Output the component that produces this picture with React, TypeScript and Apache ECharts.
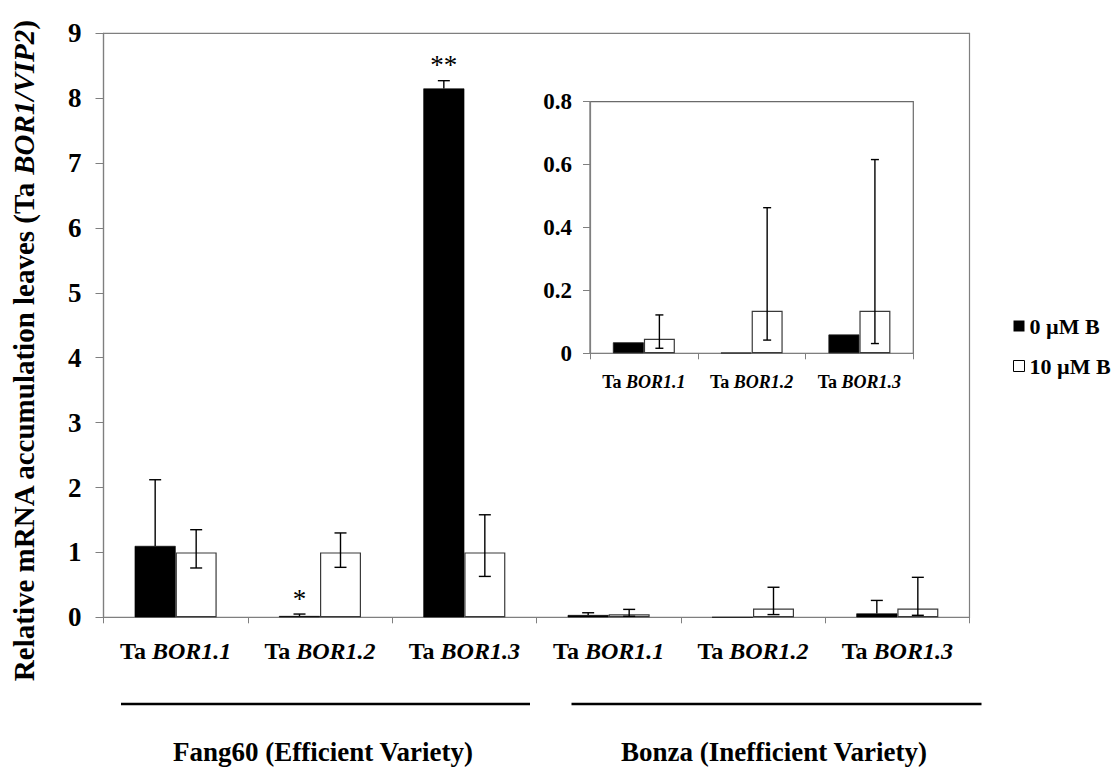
import React, { useEffect, useRef } from "react";
import * as echarts from "echarts";

const FONT = "Liberation Serif";

const varieties = ["Fang60", "Bonza"];
const genes = ["BOR1.1", "BOR1.2", "BOR1.3"];
const categories = varieties.flatMap((v) => genes.map((g) => `${v}|${g}`));
const groupTitles = ["Fang60 (Efficient Variety)", "Bonza (Inefficient Variety)"];
const seriesNames = ["0 µM B", "10 µM B"];

// 0 µM B (black)
const b0Values = [1.1, 0.02, 8.15, 0.035, 0.002, 0.06];
const b0ErrHigh: (number | null)[] = [2.12, 0.05, 8.27, 0.07, null, 0.26];
const b0Sig = ["", "*", "**", "", "", ""];
// 10 µM B (white)
const b10Values = [1.0, 1.0, 1.0, 0.046, 0.135, 0.135];
const b10ErrLow = [0.76, 0.77, 0.63, 0.016, 0.042, 0.031];
const b10ErrHigh = [1.35, 1.3, 1.58, 0.122, 0.463, 0.616];

// inset shows Bonza (indices 3..5)
const insetIdx = [3, 4, 5];

const mainTicks = { min: 0, max: 9, interval: 1 };
const insetTicks = { min: 0, max: 0.8, interval: 0.2 };

const AXIS_GRAY = "#7f7f7f";

function geneLabel(v: string) {
  const g = v.split("|")[1];
  return `{n|Ta }{i|${g}}`;
}

function richFor(size: number) {
  return {
    n: { fontFamily: FONT, fontWeight: "bold", fontSize: size, color: "#000" },
    i: { fontFamily: FONT, fontWeight: "bold", fontStyle: "italic", fontSize: size, color: "#000" },
  };
}

function errRender(offset: number, capW: number, lowCap: boolean, sigs: string[] | null, sigSize: number) {
  return (params: any, api: any) => {
    const idx = api.value(0);
    const lo = api.value(1);
    const hi = api.value(2);
    const pLo = api.coord([idx, lo]);
    const pHi = api.coord([idx, hi]);
    const x = pLo[0] + offset;
    const style = { stroke: "#000", lineWidth: 1.4 };
    const children: any[] = [
      { type: "line", shape: { x1: x, y1: pLo[1], x2: x, y2: pHi[1] }, style },
      { type: "line", shape: { x1: x - capW / 2, y1: pHi[1], x2: x + capW / 2, y2: pHi[1] }, style },
    ];
    if (lowCap) {
      children.push({ type: "line", shape: { x1: x - capW / 2, y1: pLo[1], x2: x + capW / 2, y2: pLo[1] }, style });
    }
    const s = sigs ? sigs[params.dataIndex] : "";
    if (s) {
      children.push({
        type: "text",
        x,
        y: pHi[1] - 2,
        style: { text: s, fontSize: sigSize, fontFamily: FONT, fill: "#000", align: "center", verticalAlign: "bottom" },
      });
    }
    return { type: "group", children };
  };
}

export default function App() {
  const ref = useRef<HTMLDivElement>(null);
  useEffect(() => {
    if (!ref.current) return;
    const chart = echarts.init(ref.current, undefined, { renderer: "svg" });

    const mainBlackErr: any[] = [];
    const mainBlackSig: string[] = [];
    b0Values.forEach((v, i) => {
      const h = b0ErrHigh[i];
      if (h !== null) {
        mainBlackErr.push([i, v, h]);
        mainBlackSig.push(b0Sig[i]);
      }
    });
    const mainWhiteErr = b10Values.map((_, i) => [i, b10ErrLow[i], b10ErrHigh[i]]);
    const insetWhiteErr = insetIdx.map((k, j) => [j, b10ErrLow[k], b10ErrHigh[k]]);

    const option: any = {
      animation: false,
      backgroundColor: "#fff",
      textStyle: { fontFamily: FONT },
      grid: [
        { left: 103.5, top: 33.3, width: 866, height: 584, show: true, borderColor: AXIS_GRAY, borderWidth: 1.2, backgroundColor: "transparent" },
        { left: 590, top: 101.7, width: 323.3, height: 251.6, show: true, borderColor: "#6a6a6a", borderWidth: 1.2, backgroundColor: "#fff" },
      ],
      xAxis: [
        {
          type: "category",
          gridIndex: 0,
          data: categories,
          axisLine: { lineStyle: { color: AXIS_GRAY, width: 1.2 } },
          axisTick: { show: true, length: 6, lineStyle: { color: AXIS_GRAY } },
          axisLabel: { formatter: geneLabel, rich: richFor(24), margin: 22, interval: 0, fontFamily: FONT },
          splitLine: { show: false },
        },
        {
          type: "category",
          gridIndex: 1,
          data: insetIdx.map((k) => categories[k]),
          axisLine: { lineStyle: { color: AXIS_GRAY, width: 1.2 } },
          axisTick: { show: true, length: 6, lineStyle: { color: AXIS_GRAY } },
          axisLabel: { formatter: geneLabel, rich: richFor(18), margin: 20, interval: 0, fontFamily: FONT },
          splitLine: { show: false },
        },
      ],
      yAxis: [
        {
          type: "value",
          gridIndex: 0,
          ...mainTicks,
          axisLine: { show: true, lineStyle: { color: AXIS_GRAY, width: 1.2 } },
          axisTick: { show: true, length: 8, lineStyle: { color: AXIS_GRAY } },
          axisLabel: { fontFamily: FONT, fontWeight: "bold", fontSize: 27, color: "#000", margin: 22 },
          splitLine: { show: false },
        },
        {
          type: "value",
          gridIndex: 1,
          ...insetTicks,
          axisLine: { show: true, lineStyle: { color: AXIS_GRAY, width: 1.2 } },
          axisTick: { show: true, length: 7, lineStyle: { color: AXIS_GRAY } },
          axisLabel: { fontFamily: FONT, fontWeight: "bold", fontSize: 23, color: "#000", margin: 18 },
          splitLine: { show: false },
        },
      ],
      legend: {
        orient: "vertical",
        left: 1008,
        top: 310,
        itemWidth: 11,
        itemHeight: 11,
        itemGap: 18,
        icon: "rect",
        textStyle: { fontFamily: FONT, fontWeight: "bold", fontSize: 22, color: "#000", lineHeight: 22 },
        data: [
          { name: seriesNames[0], itemStyle: { color: "#000", borderWidth: 0 } },
          { name: seriesNames[1], itemStyle: { color: "#fff", borderColor: "#000", borderWidth: 1 } },
        ],
      },
      series: [
        {
          name: seriesNames[0],
          type: "bar",
          xAxisIndex: 0,
          yAxisIndex: 0,
          data: b0Values,
          barWidth: 41,
          barGap: "0%",
          itemStyle: { color: "#000", borderColor: "#000", borderWidth: 0.6 },
          z: 2,
        },
        {
          name: seriesNames[1],
          type: "bar",
          xAxisIndex: 0,
          yAxisIndex: 0,
          data: b10Values,
          barWidth: 41,
          barGap: "0%",
          itemStyle: { color: "#fff", borderColor: "#3a3a3a", borderWidth: 1.2 },
          z: 2,
        },
        {
          name: seriesNames[0],
          type: "bar",
          xAxisIndex: 1,
          yAxisIndex: 1,
          data: insetIdx.map((k) => b0Values[k]),
          barWidth: 31,
          barGap: "0%",
          itemStyle: { color: "#000", borderColor: "#222", borderWidth: 0.8 },
          z: 2,
        },
        {
          name: seriesNames[1],
          type: "bar",
          xAxisIndex: 1,
          yAxisIndex: 1,
          data: insetIdx.map((k) => b10Values[k]),
          barWidth: 31,
          barGap: "0%",
          itemStyle: { color: "#fff", borderColor: "#3a3a3a", borderWidth: 1.2 },
          z: 2,
        },
        {
          name: "err0",
          type: "custom",
          xAxisIndex: 0,
          yAxisIndex: 0,
          data: mainBlackErr,
          encode: { x: 0, y: [1, 2] },
          renderItem: errRender(-20.5, 12, false, mainBlackSig, 27),
          z: 5,
        },
        {
          name: "err10",
          type: "custom",
          xAxisIndex: 0,
          yAxisIndex: 0,
          data: mainWhiteErr,
          encode: { x: 0, y: [1, 2] },
          renderItem: errRender(20.5, 12, true, null, 26),
          z: 5,
        },
        {
          name: "errInset",
          type: "custom",
          xAxisIndex: 1,
          yAxisIndex: 1,
          data: insetWhiteErr,
          encode: { x: 0, y: [1, 2] },
          renderItem: errRender(15.5, 8, true, null, 20),
          z: 5,
        },
      ],
      graphic: [
        {
          type: "text",
          x: 24,
          y: 351,
          rotation: Math.PI / 2,
          style: {
            text: "{n|Relative mRNA accumulation leaves (Ta }{i|BOR1/VIP2}{n|)}",
            align: "center",
            verticalAlign: "middle",
            rich: richFor(29),
          },
        },
        { type: "line", shape: { x1: 121, y1: 704, x2: 530, y2: 704 }, style: { stroke: "#000", lineWidth: 2.6 } },
        { type: "line", shape: { x1: 571.5, y1: 704, x2: 981.5, y2: 704 }, style: { stroke: "#000", lineWidth: 2.6 } },
        {
          type: "text",
          x: 323,
          y: 752,
          style: { text: groupTitles[0], fontFamily: FONT, fontWeight: "bold", fontSize: 27, fill: "#000", align: "center", verticalAlign: "middle" },
        },
        {
          type: "text",
          x: 774,
          y: 752,
          style: { text: groupTitles[1], fontFamily: FONT, fontWeight: "bold", fontSize: 27, fill: "#000", align: "center", verticalAlign: "middle" },
        },
      ],
    };
    chart.setOption(option);
    return () => chart.dispose();
  }, []);
  return <div ref={ref} style={{ position: "absolute", left: 0, top: 0, width: 1118, height: 767 }} />;
}
